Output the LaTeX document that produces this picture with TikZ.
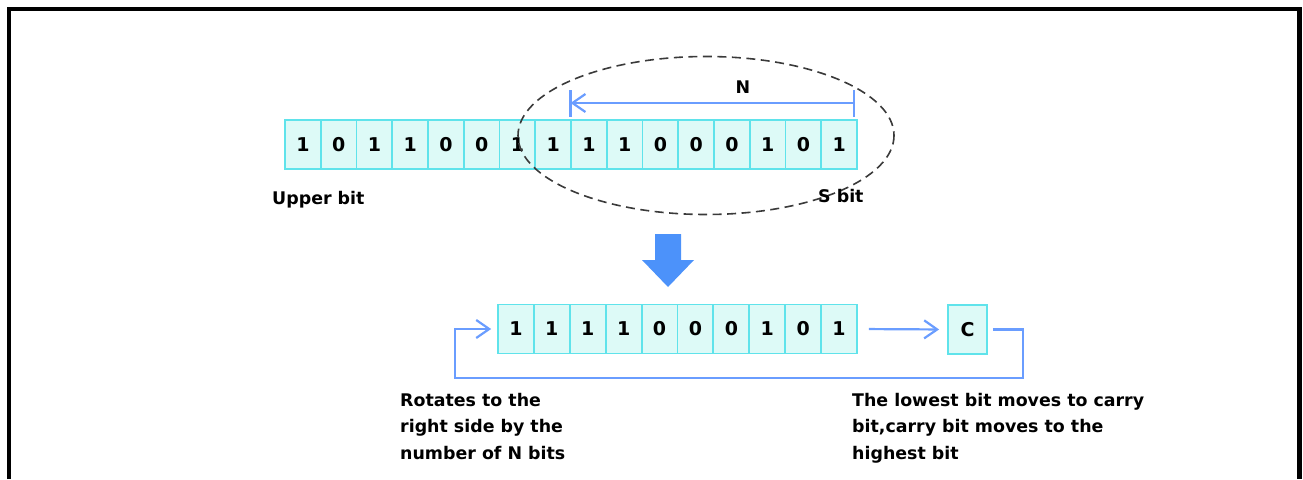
\documentclass[tikz,border=0pt]{standalone}
\usepackage{fontspec}
\setmainfont{DejaVu Sans}
\usetikzlibrary{arrows.meta}
\definecolor{cellfill}{HTML}{DDFAF7}
\definecolor{celldraw}{HTML}{5FE3EB}
\definecolor{lineblue}{HTML}{6A9DFF}
\definecolor{bigblue}{HTML}{4C92FA}
\definecolor{dashgray}{HTML}{3A3A3A}
\tikzset{
  cell/.style={draw=celldraw, fill=cellfill, line width=1.8pt, minimum width=35.8pt, minimum height=49pt, inner sep=0pt, font=\fontsize{19}{20}\selectfont\bfseries},
  cbox/.style={cell, minimum width=39pt},
  label/.style={inner sep=0pt, font=\fontsize{17.4}{26.5}\selectfont\bfseries, align=left},
  bluearrow/.style={draw=lineblue, line width=2.2pt, -{Straight Barb[length=13pt,width=18pt,line width=2.2pt]}},
  blueline/.style={draw=lineblue, line width=2.2pt},
  frame/.style={line width=4.5pt, draw=black},
}
\begin{document}
\begin{tikzpicture}[x=1pt,y=-1pt]
\useasboundingbox (0,0) rectangle (1303,479);
\draw[frame] (9,479) -- (9,9) -- (1299.5,9) -- (1299.5,479);
% top row
\foreach \d [count=\i] in {1,0,1,1,0,0,1,1,1,1,0,0,0,1,0,1}{
  \node[cell] (t\i) at ({285+35.75*(\i-0.5)},144.5) {\d};
}
% N dimension
\coordinate (nl) at (570.5,103);
\coordinate (nr) at (854,103);
\draw[blueline] (570.5,90) -- (570.5,117);
\draw[blueline] (854,90) -- (854,117);
\draw[bluearrow] (nr) -- (nl);
\node[label, anchor=base] (N) at (743,93) {N};
% ellipse
\draw[dashgray, line width=1.6pt, dash pattern=on 9pt off 5.5pt] (706,135.5) ellipse [x radius=188, y radius=79];
\node[label, anchor=base west] (upper) at (272,204) {Upper bit};
\node[label, anchor=base west] (sbit) at (818,202) {S bit};
% big arrow
\fill[bigblue] (655,234) -- (681,234) -- (681,260) -- (694,260) -- (668,287) -- (642,260) -- (655,260) -- cycle;
% bottom row
\foreach \d [count=\i] in {1,1,1,1,0,0,0,1,0,1}{
  \node[cell] (b\i) at ({498+35.9*(\i-0.5)},329) {\d};
}
\node[cbox] (C) at (967.5,329.5) {C};
\draw[bluearrow, shorten <=11pt, shorten >=8pt] (b10.east) -- (C.west);
\coordinate (r1) at (1023,329.5);
\coordinate (r2) at (1023,378);
\coordinate (l2) at (455,378);
\coordinate (l1) at (455,329);
\draw[bluearrow, shorten <=5pt, shorten >=6pt] (C.east) -- (r1) -- (r2) -- (l2) -- (l1) -- (b1.west);
\node[label, anchor=north west] (rot) at (400,393) {Rotates to the\\right side by the\\number of N bits};
\node[label, anchor=north west] (low) at (852,393) {The lowest bit moves to carry\\bit,carry bit moves to the\\highest bit};
\end{tikzpicture}
\end{document}
